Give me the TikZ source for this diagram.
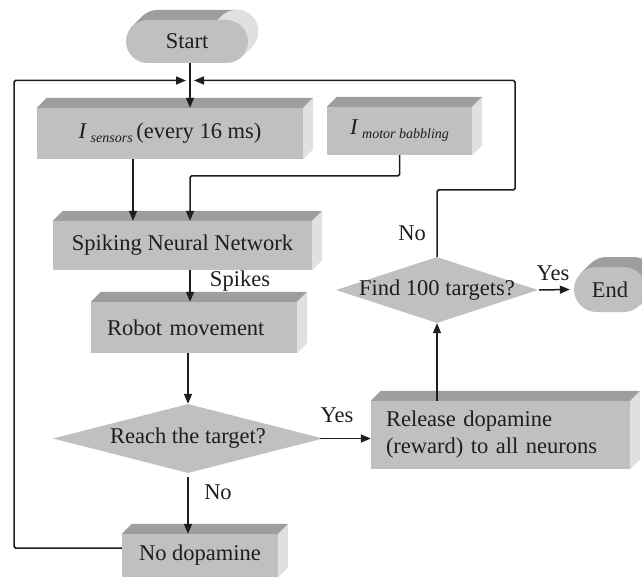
\documentclass[tikz,border=0pt]{standalone}
\usepackage{fontspec}
\setmainfont{Liberation Serif}
\usetikzlibrary{arrows.meta,shapes.geometric,calc}

\definecolor{facefront}{HTML}{C0C0C0}
\definecolor{facetop}{HTML}{9E9E9E}
\definecolor{faceside}{HTML}{E0E0E0}
\definecolor{ink}{HTML}{1E1E1E}

\tikzset{
  base/.style={inner sep=0pt, font=\fontsize{22.5}{27}\selectfont, text=ink},
  block/.style={base, rectangle, fill=facefront},
  dia/.style={diamond, inner sep=0pt, fill=facefront},
  conn/.style={line width=1.5pt, draw=ink, rounded corners=1.5pt},
  arr/.style={conn, -{Triangle[length=10pt,width=8pt]}},
}

% top and right faces of an extruded block
\newcommand\sidefaces[1]{%
  \fill[facetop] (#1.north west) -- ++(10,-10) -- ($(#1.north east)+(10,-10)$) -- (#1.north east) -- cycle;
  \fill[faceside] (#1.north east) -- ++(10,-10) -- ($(#1.south east)+(10,-10)$) -- (#1.south east) -- cycle;
}

\begin{document}
\begin{tikzpicture}[x=1pt,y=-1pt]
\useasboundingbox (0,0) rectangle (642,580);

% Start terminal (extruded capsule)
\foreach \k in {10,...,1}
  \fill[facetop, rounded corners=21.5pt] (126+\k,20-\k) rectangle (248+\k,63-\k);
\foreach \k in {1,...,10}
  \fill[faceside] (226.5+\k,41.5-\k) circle (21.5);
\node[block, rounded corners=21.5pt, minimum width=122pt, minimum height=43pt] (start) at (187,41.5) {Start};

% End terminal (extruded capsule)
\foreach \k in {10,...,1}
  \fill[facetop, rounded corners=22.5pt] (574+\k,267-\k) rectangle (646+\k,312-\k);
\node[block, rounded corners=22.5pt, minimum width=72pt, minimum height=45pt] (end) at (610,289.5) {End};

% process blocks
\node[block, minimum width=266pt, minimum height=51pt] (sensors) at (170,133.5)
  {\textit{I}\,\raisebox{-4pt}{\fontsize{14}{14}\selectfont\itshape sensors}\,(every 16 ms)};
\node[block, minimum width=145pt, minimum height=48pt] (motor) at (399.5,131)
  {\textit{I}\,\raisebox{-4pt}{\fontsize{14}{14}\selectfont\itshape motor babbling}};
\node[block, minimum width=259pt, minimum height=49pt] (snn) at (182.5,245.5) {Spiking Neural Network};
\node[block, minimum width=206pt, minimum height=51pt, text width=174pt, inner xsep=16pt, align=left] (robot) at (194,327.5) {Robot movement};
\node[block, minimum width=259pt, minimum height=68pt, text width=229pt, inner xsep=15pt, align=left] (release) at (500.5,435)
  {Release dopamine\\(reward) to all neurons};
\node[block, minimum width=156pt, minimum height=43pt] (nodop) at (200,555.5) {No dopamine};
\foreach \b in {sensors,motor,snn,robot,release,nodop} {\sidefaces{\b}}

% decisions
\node[dia, minimum width=270pt, minimum height=69pt] (reach) at (188,438.5) {};
\node[base] (reachtext) at (reach) {Reach the target?};
\node[dia, minimum width=202pt, minimum height=66pt] (find) at (437,290) {};
\node[base] (findtext) at (find) {Find 100 targets?};

% junction points of the loops
\coordinate (top) at (190,80.5);
\coordinate (inL) at (186,80.5);
\coordinate (inR) at (194,80.5);
\coordinate (cornerL) at (14,80.5);
\coordinate (fbA) at (515,190);
\coordinate (fbB) at (515,80.5);
\coordinate (mj) at (190,176);
\coordinate (sj) at (133,0);

% connectors
\draw[arr] (start.south -| top) -- (top |- sensors.north);
\draw[arr] ([yshift=7.5pt]nodop.west) -| (cornerL) -- (inL);
\draw[arr] (find.north) |- (fbA) -- (fbB) -- (inR);
\draw[arr] (sensors.south -| sj) -- (sj |- snn.north);
\draw[arr] (motor.south) |- (mj) -- (mj |- snn.north);
\draw[arr] (snn.south -| top) -- (top |- robot.north);
\draw[arr] (robot.south -| reach.north) -- (reach.north);
\draw[arr] ([yshift=-4pt]reach.south) -- (reach.south |- nodop.north);
\draw[arr] ([xshift=-3pt]reach.east) -- (reach.east -| release.west);
\draw[arr] (release.north -| find.south) -- (find.south);
\draw[arr] ([xshift=1pt]find.east) -- ([xshift=-4pt]end.west);

% branch labels
\node[base] (lblspikes) at (240,281) {Spikes};
\node[base] (lblno1) at (218,492) {No};
\node[base] (lblyes1) at (337,415) {Yes};
\node[base] (lblyes2) at (553,273) {Yes};
\node[base] (lblno2) at (412,233) {No};
\end{tikzpicture}
\end{document}
